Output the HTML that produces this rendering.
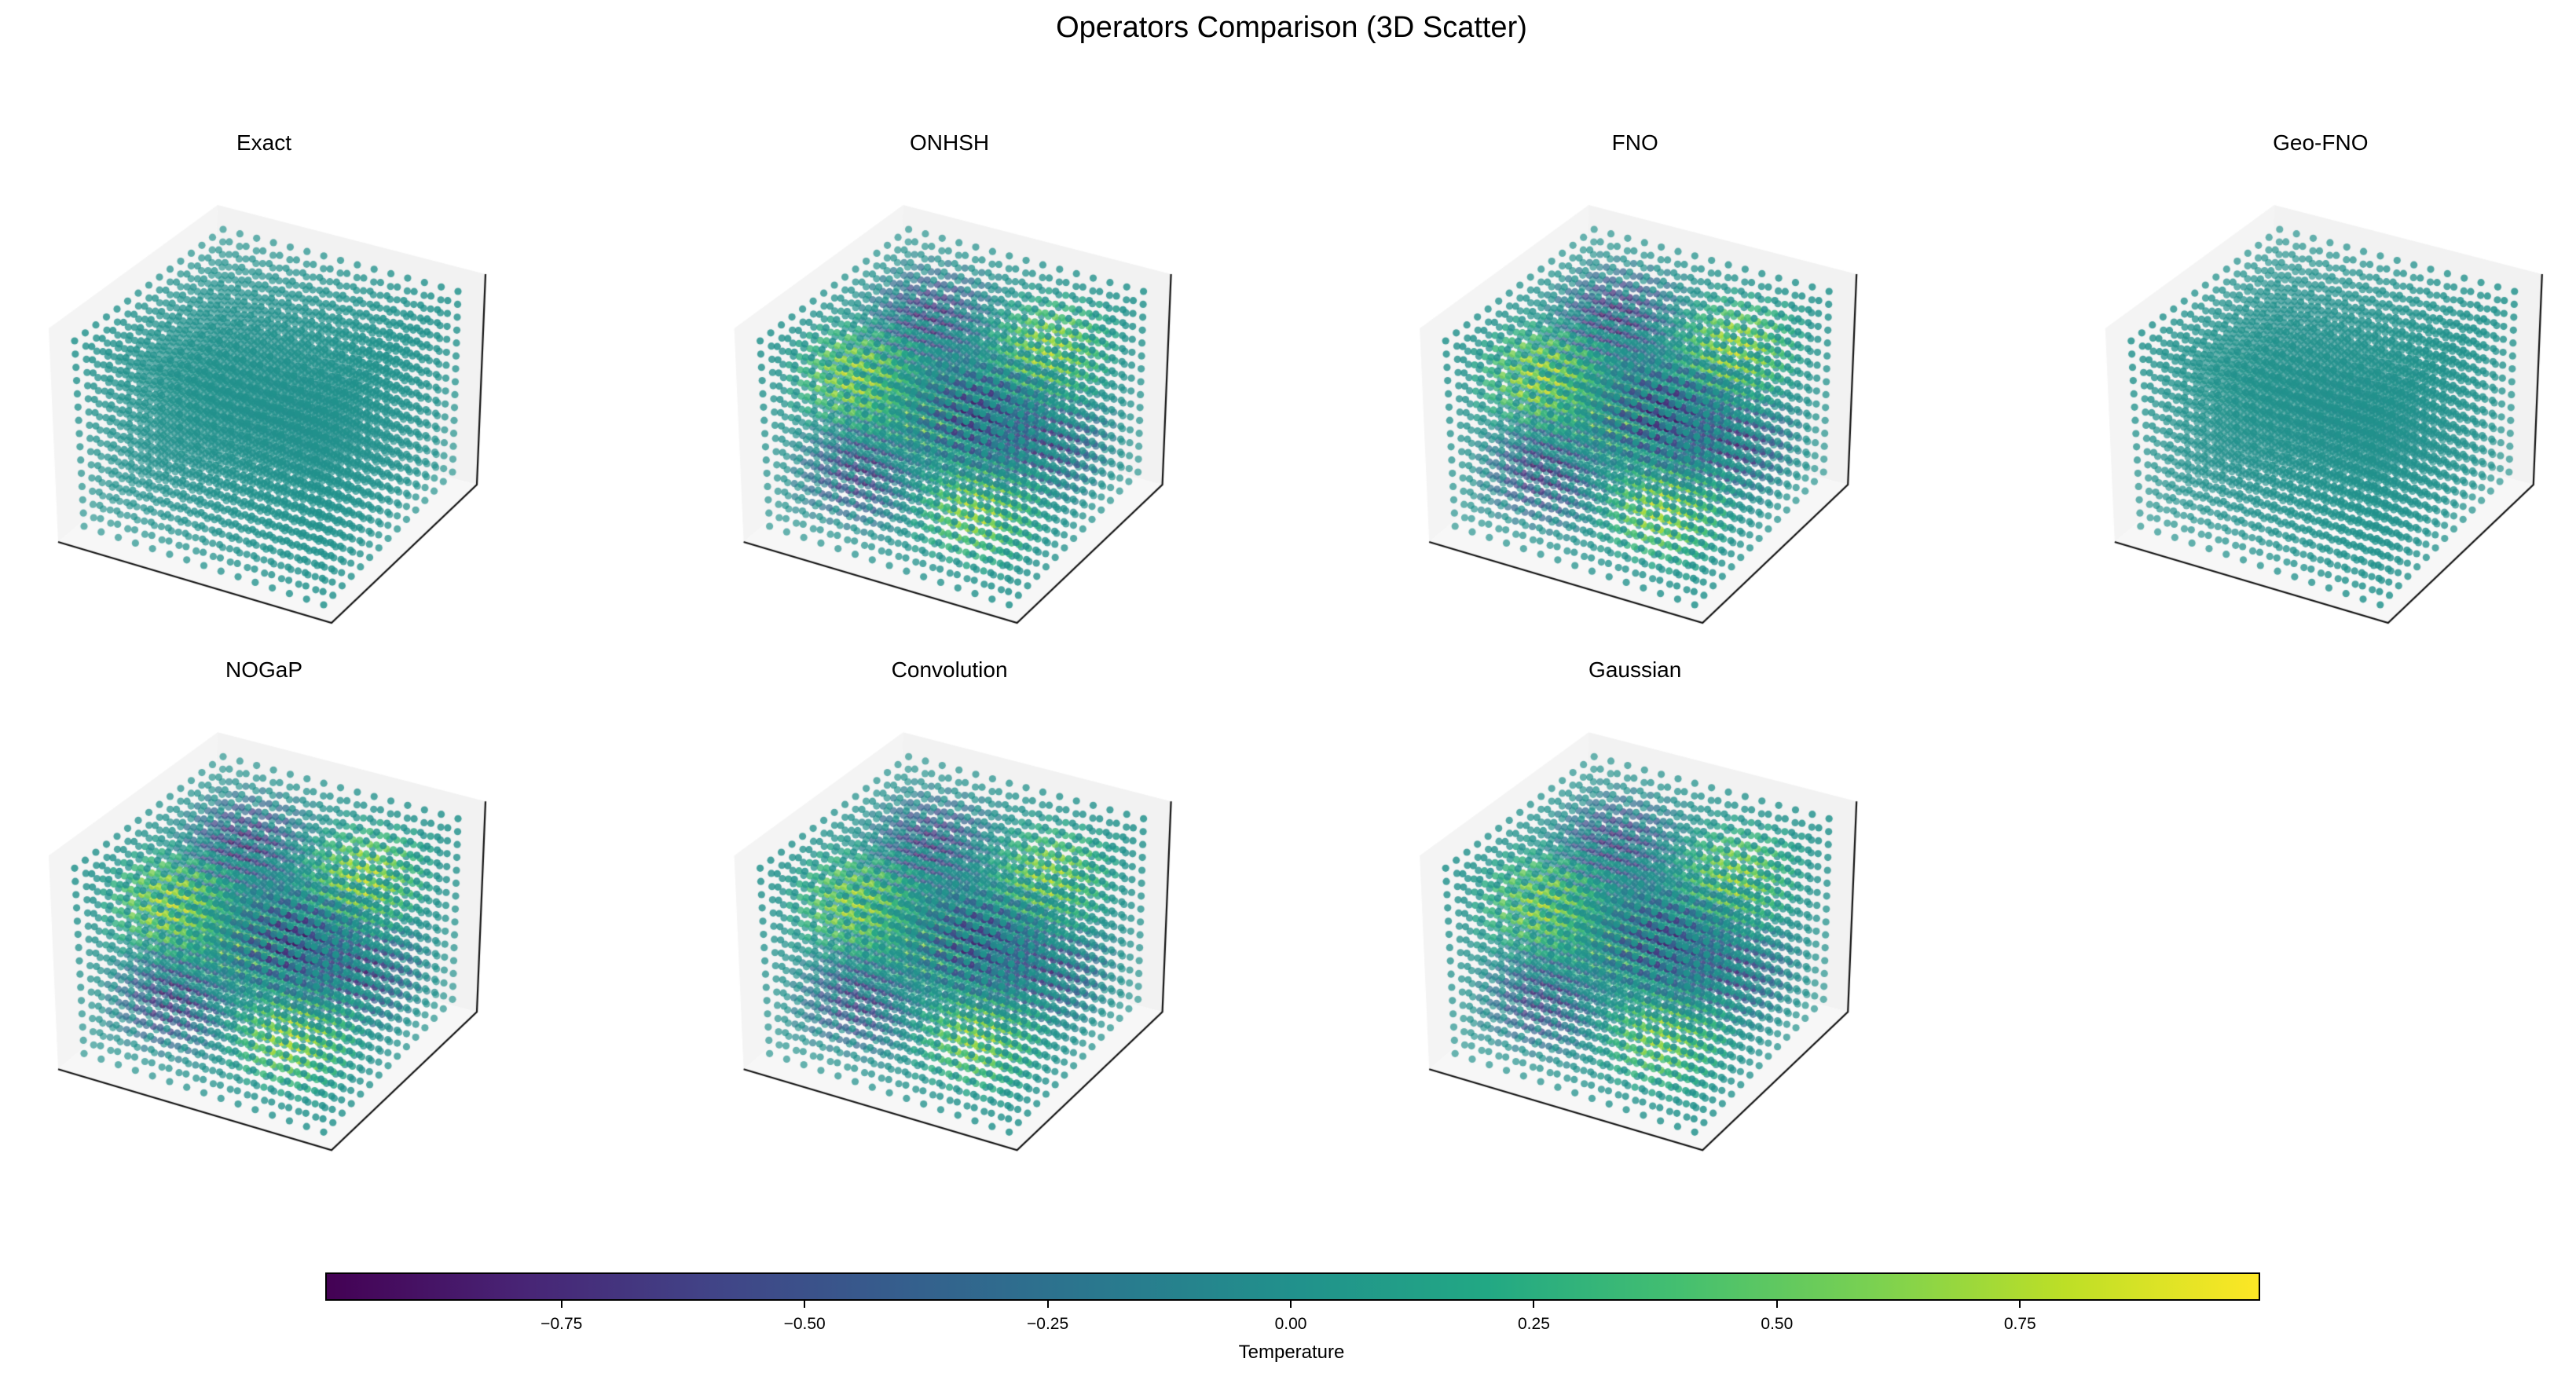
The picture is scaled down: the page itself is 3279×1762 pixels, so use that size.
<!DOCTYPE html>
<html><head><meta charset="utf-8">
<style>
html,body{margin:0;padding:0;background:#fff;}
#root{position:relative;width:3279px;height:1762px;overflow:hidden;font-family:"Liberation Sans","DejaVu Sans",sans-serif;color:#000;}
.t{position:absolute;white-space:nowrap;transform:translateX(-50%);}
.ptitle{font-size:28px;}
.tick{position:absolute;width:2px;height:9px;background:#000;}
.tl{position:absolute;font-size:21px;transform:translateX(-50%);white-space:nowrap;}
</style></head>
<body>
<div id="root">
<div class="t" style="left:1644px;top:14px;font-size:38px;">Operators Comparison (3D Scatter)</div>
<canvas id="cv" width="3279" height="1762" style="position:absolute;left:0;top:0;"></canvas>
<div id="titles"></div>
<div id="cbar" style="position:absolute;left:414px;top:1620px;width:2459px;height:32px;border:2px solid #000;background:linear-gradient(to right,#440154,#482475,#414487,#355f8d,#2a788e,#21918c,#22a884,#44bf70,#7ad151,#bddf26,#fde725);"></div>
<div id="cticks"></div>
<div class="t" style="left:1644px;top:1708px;font-size:24px;">Temperature</div>
</div>
<script>
// data
const models = ["Exact","ONHSH","FNO","Geo-FNO","NOGaP","Convolution","Gaussian"];
const amplitudes = [0.02, 0.95, 1.0, 0.03, 1.0, 0.92, 0.9];
const modeProfile = [0.0,0.43,0.78,0.97,0.97,0.78,0.43,0.0,-0.43,-0.78,-0.97,-0.97,-0.78,-0.43,0.0];
const cbarTicks = [-0.75,-0.5,-0.25,0,0.25,0.5,0.75];
const cbarTickLabels = ["\u22120.75","\u22120.50","\u22120.25","0.00","0.25","0.50","0.75"];
const vmin = -0.993, vmax = 0.997;

const viridis = ["#440154","#482475","#414487","#355f8d","#2a788e","#21918c","#22a884","#44bf70","#7ad151","#bddf26","#fde725"];
function hex(h){return [parseInt(h.substr(1,2),16),parseInt(h.substr(3,2),16),parseInt(h.substr(5,2),16)];}
const vrgb = viridis.map(hex);
function cmap(v){
  let t=(v-vmin)/(vmax-vmin); t=Math.max(0,Math.min(1,t));
  const f=t*10, i=Math.min(9,Math.floor(f)), u=f-i;
  const a=vrgb[i], b=vrgb[i+1];
  return [0,1,2].map(c=>Math.round(a[c]+(b[c]-a[c])*u));
}
const cbL=414, cbR=2877;
function cbX(v){return cbL+(v-vmin)/(vmax-vmin)*(cbR-cbL);}
const ct=document.getElementById('cticks');
cbarTicks.forEach((v,n)=>{
  const tk=document.createElement('div'); tk.className='tick';
  
  
  tk.style.left=(cbX(v)-1)+'px'; tk.style.top='1656px'; ct.appendChild(tk);
  const tl=document.createElement('div'); tl.className='tl';
  
  
  tl.style.left=cbX(v)+'px'; tl.style.top='1674px'; tl.textContent=cbarTickLabels[n]; ct.appendChild(tl);
});

const cv=document.getElementById('cv'), ctx=cv.getContext('2d');
const N=modeProfile.length, M=N-1;
const c000=[107,670],c100=[412,770],c110=[576,601],c010=[278,516],
      c001=[95,434],c101=[400,534],c111=[583,371],c011=[284,292];
function proj(a,b,c){
  const L=(p,q,t)=>[p[0]+(q[0]-p[0])*t,p[1]+(q[1]-p[1])*t];
  const x00=L(c000,c100,a),x10=L(c010,c110,a),x01=L(c001,c101,a),x11=L(c011,c111,a);
  const y0=L(x00,x10,b),y1=L(x01,x11,b);
  return L(y0,y1,c);
}
const box={tb:[277,261],lt:[62,418],lb:[74,690],fr:[422,793],rb:[607,617],rt:[618,349],inner:[266,528]};
const titlesDiv=document.getElementById('titles');
models.forEach((name,p)=>{
  const ox=(p%4)*872.6, oy=Math.floor(p/4)*671.3;
  const P=q=>[q[0]+ox,q[1]+oy];
  function poly(pts,col){ctx.beginPath();pts.map(P).forEach((q,i)=>i?ctx.lineTo(q[0],q[1]):ctx.moveTo(q[0],q[1]));ctx.closePath();ctx.fillStyle=col;ctx.fill();}
  poly([box.lt,box.tb,box.inner,box.lb],'#f4f4f4');
  poly([box.tb,box.rt,box.rb,box.inner],'#f2f2f2');
  poly([box.lb,box.inner,box.rb,box.fr],'#f7f7f7');
  ctx.strokeStyle='#111';ctx.lineWidth=2.2;ctx.beginPath();
  [box.lb,box.fr,box.rb,box.rt].map(P).forEach((q,i)=>i?ctx.lineTo(q[0],q[1]):ctx.moveTo(q[0],q[1]));ctx.stroke();
  const pts=[];
  for(let i=0;i<N;i++)for(let j=0;j<N;j++)for(let k=0;k<N;k++){
    const v=-amplitudes[p]*modeProfile[i]*modeProfile[j]*modeProfile[k];
    pts.push([i,j,k,v,(i-j+k+M)/(3*M)]);
  }
  pts.sort((a,b)=>a[4]-b[4]);
  pts.forEach(q=>{
    const s=proj(q[0]/M,q[1]/M,q[2]/M);
    const c=cmap(q[3]);
    const al=0.5+0.5*q[4];
    ctx.fillStyle=`rgba(${c[0]},${c[1]},${c[2]},${al})`;
    ctx.beginPath();ctx.arc(s[0]+ox,s[1]+oy,4.6,0,6.283);ctx.fill();
  });
  const t=document.createElement('div'); t.className='t ptitle';
  
  
  t.style.left=(336+ox)+'px'; t.style.top=(166+oy)+'px'; t.textContent=name;
  titlesDiv.appendChild(t);
});
</script>
</body></html>
